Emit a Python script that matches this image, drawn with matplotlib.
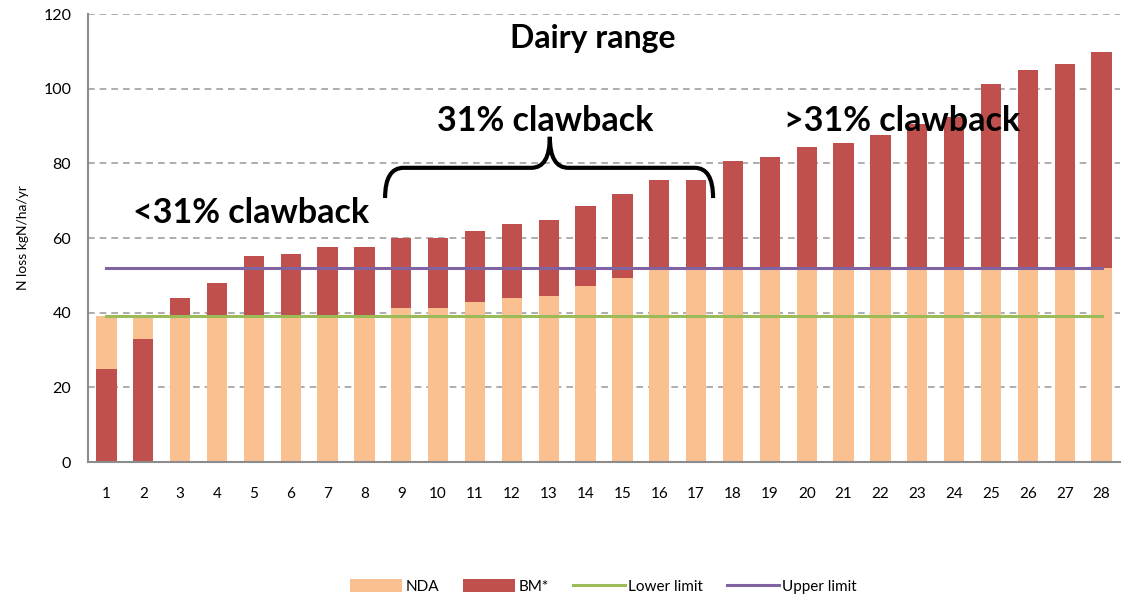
import numpy as np
import matplotlib
matplotlib.use("Agg")
import matplotlib.pyplot as plt
from matplotlib.path import Path
from matplotlib.patches import PathPatch

plt.rcParams["font.family"] = ["Lato", "DejaVu Sans"]

# Data
farms = list(range(1, 29))
nda = [39, 39, 39, 39, 39, 39, 39, 39, 41.2, 41.2, 42.8, 43.8, 44.4, 47.1,
       49.2, 52, 52, 52, 52, 52, 52, 52, 52, 52, 52, 52, 52, 52]
bm = [25, 33, 44, 48, 55.2, 55.7, 57.7, 57.7, 59.9, 60, 62, 63.7, 64.7, 68.5,
      71.7, 75.5, 75.5, 80.6, 81.8, 84.4, 85.5, 87.7, 90.5, 92.5, 101.2, 104.9,
      106.6, 109.7]
lower_limit = 39
upper_limit = 52

nda_col = "#FAC090"
bm_col = "#C0504D"
low_col = "#9BBB59"
up_col = "#8064A2"

x = np.array(farms)
nda_a = np.array(nda)
bm_a = np.array(bm)
above = bm_a > nda_a

# BM above NDA is stacked on top; BM below NDA sits underneath it
peach_bottom = np.where(above, 0, bm_a)
peach_height = np.where(above, nda_a, nda_a - bm_a)
red_bottom = np.where(above, nda_a, 0)
red_height = np.where(above, bm_a - nda_a, bm_a)

fig = plt.figure(figsize=(11.28, 6), dpi=100)
ax = fig.add_axes([88 / 1128, 138 / 600, 1032 / 1128, 448 / 600])

b1 = ax.bar(x, peach_height, bottom=peach_bottom, width=0.55, color=nda_col, zorder=2)
b2 = ax.bar(x, red_height, bottom=red_bottom, width=0.55, color=bm_col, zorder=2)
l1, = ax.plot(x, [lower_limit] * len(x), color=low_col, lw=2.2, zorder=3)
l2, = ax.plot(x, [upper_limit] * len(x), color=up_col, lw=2.2, zorder=3)

ax.set_xlim(0.5, 28.5)
ax.set_ylim(0, 120)
ax.set_yticks(range(0, 121, 20))
ax.set_xticks(x)
ax.yaxis.grid(True, linestyle=(0, (4, 3)), color="#A0A0A0", lw=1.2, zorder=0)
for s in ["top", "right"]:
    ax.spines[s].set_visible(False)
for s in ["left", "bottom"]:
    ax.spines[s].set_color("#8C8C8C")
    ax.spines[s].set_linewidth(1.5)
ax.tick_params(axis="x", length=0, pad=18, labelsize=11)
ax.tick_params(axis="y", length=0, pad=12, labelsize=11.5)
ax.set_ylabel("N loss kgN/ha/yr", fontsize=10, labelpad=10)

ax.text(14.2, 113.5, "Dairy range", ha="center", va="center", fontsize=23, fontweight="bold")
ax.text(12.9, 91.3, "31% clawback", ha="center", va="center", fontsize=24.5, fontweight="bold")
ax.text(4.92, 66.8, "<31% clawback", ha="center", va="center", fontsize=24.5, fontweight="bold")
ax.text(22.58, 91.3, ">31% clawback", ha="center", va="center", fontsize=24.5, fontweight="bold")

# curly brace over farms 9-17
xl, xr, xm = 8.56, 17.46, 13.03
yb, yh, yp = 70.7, 78.8, 87.1
verts = [(xl, yb), (xl, yh), (xl + 0.5, yh), (xm - 0.5, yh), (xm, yh), (xm, yp),
         (xm, yh), (xm + 0.5, yh), (xr - 0.5, yh), (xr, yh), (xr, yb)]
codes = [Path.MOVETO, Path.CURVE3, Path.CURVE3, Path.LINETO, Path.CURVE3, Path.CURVE3,
         Path.CURVE3, Path.CURVE3, Path.LINETO, Path.CURVE3, Path.CURVE3]
ax.add_patch(PathPatch(Path(verts, codes), fill=False, lw=3, color="black", zorder=5))

fig.legend([b1, b2, l1, l2], ["NDA", "BM*", "Lower limit", "Upper limit"],
           loc="center", bbox_to_anchor=(0.535, 0.022), ncol=4, frameon=False,
           fontsize=11, handlelength=3.4, handleheight=0.9, columnspacing=1.6,
           handletextpad=0.2)

fig.savefig("out.png", dpi=100)
